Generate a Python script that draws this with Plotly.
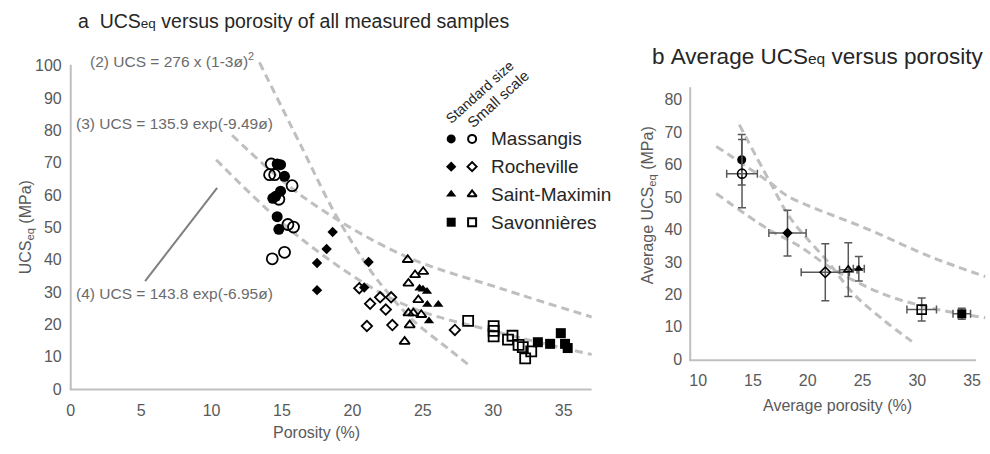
import plotly.graph_objects as go

W, H = 990, 454

# ---------------- data: panel a (all measured samples) ----------------
mas_std_x = [14.66, 14.9, 15.18, 14.9, 14.35, 14.55, 14.66, 14.78]
mas_std_y = [69.6, 69.4, 65.8, 61.2, 59.0, 59.6, 53.3, 49.4]
mas_sml_x = [14.24, 14.12, 14.48, 15.72, 14.78, 15.42, 15.82, 14.31, 15.18]
mas_sml_y = [69.6, 66.3, 66.3, 62.9, 58.7, 50.9, 50.1, 40.3, 42.3]

roc_std_x = [18.6, 18.17, 17.49, 17.49, 21.15, 20.84]
roc_std_y = [48.6, 43.3, 39.0, 30.6, 39.3, 31.4]
roc_sml_x = [20.49, 21.26, 21.97, 22.75, 22.37, 21.03, 22.84, 27.28]
roc_sml_y = [31.2, 26.4, 28.4, 28.4, 24.6, 19.5, 19.8, 18.3]

smx_std_x = [24.77, 25.01, 25.3, 25.32, 26.1, 25.44]
smx_std_y = [31.2, 30.9, 30.2, 26.2, 26.2, 21.1]
smx_sml_x = [23.93, 24.45, 25.03, 23.98, 24.68, 23.98, 24.33, 24.89, 24.07, 23.71]
smx_sml_y = [40.0, 35.3, 36.3, 32.7, 27.6, 23.5, 23.5, 23.0, 19.8, 14.7]

sav_std_x = [33.17, 34.04, 34.8, 35.1, 35.29]
sav_std_y = [14.5, 14.0, 17.3, 14.0, 12.7]
sav_sml_x = [28.22, 30.03, 30.03, 30.03, 31.37, 31.05, 31.8, 32.1, 32.7, 32.27]
sav_sml_y = [21.1, 19.5, 18.0, 16.3, 16.5, 15.3, 13.7, 13.0, 11.7, 9.5]

# model curves
a_c2_x = [13.4, 16.4, 18.8, 21.2, 22.4, 24.3, 26.9, 28.4]
a_c2_y = [101.0, 74.8, 54.0, 37.2, 30.4, 21.3, 12.2, 7.0]
a_c3_x = [11.46, 16.48, 23.55, 30.62, 37.0]
a_c3_y = [78.5, 59.5, 41.5, 31.0, 22.3]
a_c4_x = [10.33, 16.48, 23.55, 30.62, 37.0]
a_c4_y = [70.9, 46.1, 26.4, 17.3, 10.7]

# ---------------- data: panel b (averages) ----------------
b_names = ["Massangis std", "Massangis small", "Rocheville std", "Rocheville small",
           "Saint-Maximin small", "Saint-Maximin std", "Savonnières small", "Savonnières std"]
b_x = [13.97, 14.0, 18.15, 21.6, 23.7, 24.66, 30.4, 34.06]
b_y = [61.5, 57.2, 38.9, 26.8, 27.6, 27.9, 15.3, 14.0]
b_ex = [0.0, 1.4, 1.7, 2.2, 0.8, 0.5, 1.35, 0.8]
b_ey = [7.8, 10.5, 7.05, 8.8, 8.3, 3.8, 3.55, 1.7]
b_sym = ["circle", "circle-open", "diamond", "diamond-open",
         "triangle-up-open", "triangle-up", "square-open", "square"]
b_size = [9, 9, 8, 8, 8, 8, 9, 9]

b_c2_x = [13.75, 16.6, 18.45, 21.79, 24.2, 26.94, 29.5]
b_c2_y = [72.3, 54.3, 43.3, 30.2, 20.1, 12.0, 5.5]
b_c3_x = [11.64, 16.6, 18.15, 25.4, 31.5, 36.2]
b_c3_y = [65.6, 54.3, 50.3, 40.2, 31.2, 25.5]
b_c4_x = [11.64, 16.33, 19.06, 22.4, 26.9, 31.5, 36.2]
b_c4_y = [51.1, 40.2, 35.2, 27.6, 20.1, 15.6, 12.8]

# tick labels
a_xticks = [0, 5, 10, 15, 20, 25, 30, 35]
a_yticks = [0, 10, 20, 30, 40, 50, 60, 70, 80, 90, 100]
b_xticks = [10, 15, 20, 25, 30, 35]
b_yticks = [0, 10, 20, 30, 40, 50, 60, 70, 80]

legend_names = ["Massangis", "Rocheville", "Saint-Maximin", "Savonnières"]
legend_std = ["circle", "diamond", "triangle-up", "square"]
legend_sml = ["circle-open", "diamond-open", "triangle-up-open", "square-open"]

# ---------------- layout helpers ----------------
def PX(px):
    return px / W

def PY(py):
    return 1 - py / H

FONT = "Liberation Sans, Arial, sans-serif"
TICKC = "#595959"
AXC = "#bfbfbf"
CURVE = dict(color="#bfbfbf", width=3, dash="8px,5px")

fig = go.Figure()

# curves panel a
for cx, cy in [(a_c2_x, a_c2_y), (a_c3_x, a_c3_y), (a_c4_x, a_c4_y)]:
    fig.add_trace(go.Scatter(x=cx, y=cy, mode="lines", line=dict(shape="spline", smoothing=1.0, **CURVE),
                             xaxis="x", yaxis="y", showlegend=False, hoverinfo="skip"))

def pts(x, y, sym, size, name, open_=False):
    return go.Scatter(x=x, y=y, mode="markers", name=name, showlegend=False,
                      marker=dict(symbol=sym, size=size, color="black",
                                  line=dict(color="black", width=1.8 if open_ else 0)),
                      xaxis="x", yaxis="y", cliponaxis=False)

fig.add_trace(pts(mas_sml_x, mas_sml_y, "circle-open", 11, "Massangis small", True))
fig.add_trace(pts(mas_std_x, mas_std_y, "circle", 11, "Massangis std"))
fig.add_trace(pts(roc_sml_x, roc_sml_y, "diamond-open", 8, "Rocheville small", True))
fig.add_trace(pts(roc_std_x, roc_std_y, "diamond", 8, "Rocheville std"))
fig.add_trace(pts(smx_sml_x, smx_sml_y, "triangle-up-open", 9, "Saint-Maximin small", True))
fig.add_trace(pts(smx_std_x, smx_std_y, "triangle-up", 9, "Saint-Maximin std"))
fig.add_trace(pts(sav_sml_x, sav_sml_y, "square-open", 10, "Savonnières small", True))
fig.add_trace(pts(sav_std_x, sav_std_y, "square", 10, "Savonnières std"))

# curves panel b
for cx, cy in [(b_c2_x, b_c2_y), (b_c3_x, b_c3_y), (b_c4_x, b_c4_y)]:
    fig.add_trace(go.Scatter(x=cx, y=cy, mode="lines", line=dict(shape="spline", smoothing=1.0, **CURVE),
                             xaxis="x2", yaxis="y2", showlegend=False, hoverinfo="skip"))

for i in range(len(b_x)):
    op = b_sym[i].endswith("open")
    fig.add_trace(go.Scatter(
        x=[b_x[i]], y=[b_y[i]], mode="markers", name=b_names[i], showlegend=False,
        marker=dict(symbol=b_sym[i], size=b_size[i], color="black",
                    line=dict(color="black", width=1.6 if op else 0)),
        error_x=dict(type="data", array=[b_ex[i]], visible=b_ex[i] > 0, color=TICKC, thickness=1.5, width=4),
        error_y=dict(type="data", array=[b_ey[i]], visible=True, color=TICKC, thickness=1.5, width=4),
        xaxis="x2", yaxis="y2", cliponaxis=False))

# legend (custom, pixel overlay axes)
leg_rows = [141.7, 170.0, 198.3, 226.7]
for i, nm in enumerate(legend_names):
    fig.add_trace(go.Scatter(x=[449], y=[leg_rows[i]], mode="markers", showlegend=False, hoverinfo="skip",
                             marker=dict(symbol=legend_std[i], size=9 if i != 1 else 8, color="black", line=dict(width=0)),
                             xaxis="x3", yaxis="y3", cliponaxis=False))
    fig.add_trace(go.Scatter(x=[470], y=[leg_rows[i]], mode="markers", showlegend=False, hoverinfo="skip",
                             marker=dict(symbol=legend_sml[i], size=8 if i != 1 else 7, color="black",
                                         line=dict(color="black", width=2)),
                             xaxis="x3", yaxis="y3", cliponaxis=False))

annotations = []
def ann(text, px, py, size, color="#262626", xanchor="left", yanchor="middle", angle=0):
    annotations.append(dict(text=text, x=PX(px), y=PY(py), xref="paper", yref="paper",
                            xanchor=xanchor, yanchor=yanchor, showarrow=False, textangle=angle,
                            font=dict(family=FONT, size=size, color=color)))

for i, nm in enumerate(legend_names):
    ann(nm, 487, leg_rows[i], 19)
ann("Standard size", 477.5, 94, 14, angle=-42, xanchor="center")
ann("Small scale", 496.5, 101, 15, angle=-42, xanchor="center")

sp = "\u00a0"
ann("a" + sp + sp + "UCS<span style='font-size:13.5px'>eq</span> versus porosity of all measured samples", 72, 21, 19.5)
ann("b" + sp + "Average UCS<span style='font-size:15.5px'>eq</span> versus porosity", 649, 58, 22.5)

EQC = "#6b6b6b"
ann("(2) UCS = 276 x (1-3ø)<sup>2</sup>", 84, 61, 15.5, color=EQC)
ann("(3) UCS = 135.9 exp(-9.49ø)", 70, 126, 15.5, color=EQC)
ann("(4) UCS = 143.8 exp(-6.95ø)", 70, 299, 15.5, color=EQC)

ann("UCS<sub>eq</sub> (MPa)", 22, 232, 16, color=TICKC, xanchor="center", angle=-90)
ann("Porosity (%)", 314, 441, 16, color=TICKC, xanchor="center")
ann("Average UCS<sub>eq</sub> (MPa)", 647, 209, 16, color=TICKC, xanchor="center", angle=-90)
ann("Average porosity (%)", 837, 414, 16, color=TICKC, xanchor="center")

shapes = []
def line(x0, y0, x1, y1, color=AXC, width=2):
    shapes.append(dict(type="line", xref="paper", yref="paper", x0=PX(x0), y0=PY(y0), x1=PX(x1), y1=PY(y1),
                       line=dict(color=color, width=width), layer="below"))

line(67, 397.5, 67, 66)
line(66, 397.5, 590, 397.5)
line(689, 367.5, 689, 89)
line(688, 367.5, 976, 367.5)
line(141.7, 286.7, 214, 191.7, color="#7f7f7f", width=2)

# axes
a_xr = [0, 37]
a_yr = [0, 103]
b_xr = [9.27, 36.4]
b_yr = [0, 84]

tickfont = dict(family=FONT, size=16, color=TICKC)
common = dict(showgrid=False, zeroline=False, showline=False, ticks="", tickfont=tickfont, fixedrange=True)

fig.update_layout(
    width=W, height=H,
    margin=dict(l=0, r=0, t=0, b=0),
    paper_bgcolor="white", plot_bgcolor="rgba(0,0,0,0)",
    showlegend=False,
    xaxis=dict(domain=[PX(67), PX(67 + 37 * 14.14)], range=a_xr, tickvals=a_xticks, anchor="y",
               ticklabelstandoff=10, **common),
    yaxis=dict(domain=[PY(397), PY(397 - 103 * 3.3)], range=a_yr, tickvals=a_yticks, anchor="x",
               ticklabelstandoff=8, **common),
    xaxis2=dict(domain=[PX(689), PX(697 + 26.4 * 11)], range=b_xr, tickvals=b_xticks, anchor="y2",
                ticklabelstandoff=10, **common),
    yaxis2=dict(domain=[PY(366.5), PY(366.5 - 84 * 3.31)], range=b_yr, tickvals=b_yticks, anchor="x2",
                ticklabelstandoff=7, **common),
    xaxis3=dict(domain=[0, 1], range=[0, W], visible=False, anchor="y3", fixedrange=True),
    yaxis3=dict(domain=[0, 1], range=[H, 0], visible=False, anchor="x3", fixedrange=True),
    annotations=annotations,
    shapes=shapes,
)

fig.write_html("out.html", include_plotlyjs=True, config={"displayModeBar": False},
               post_script="document.body.style.margin='0px';document.body.style.overflow='hidden';")
